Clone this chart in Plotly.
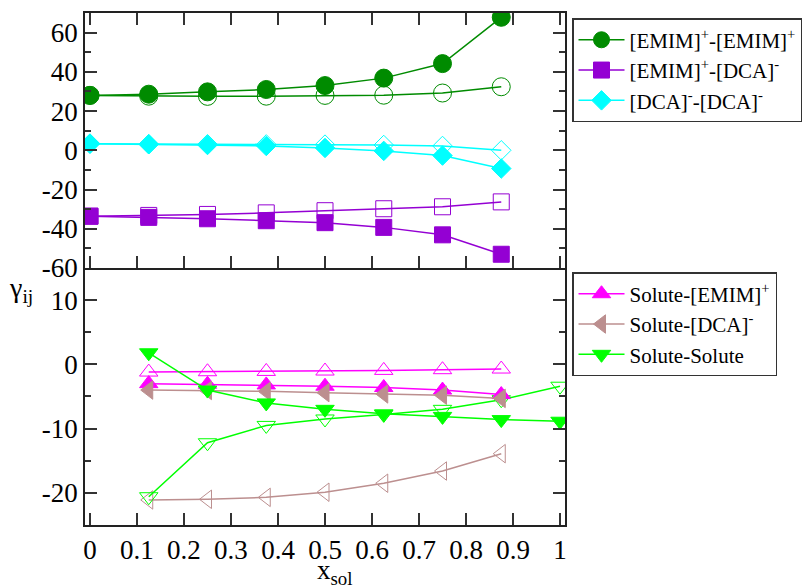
import plotly.graph_objects as go
from plotly.subplots import make_subplots

# ---- data ----
x_ion = [0, 0.125, 0.25, 0.375, 0.5, 0.625, 0.75, 0.875]
emim_emim_filled = [28.0, 28.6, 29.8, 31.0, 33.0, 36.8, 44.2, 67.8]
emim_emim_open = [28.0, 27.6, 27.5, 27.6, 28.0, 28.1, 29.2, 32.4]
emim_dca_filled = [-33.6, -34.2, -34.9, -35.9, -36.9, -39.3, -43.1, -53.0]
emim_dca_open = [-33.6, -33.2, -32.7, -31.9, -30.8, -29.8, -28.8, -26.3]
dca_dca_filled = [3.4, 3.1, 2.7, 2.2, 1.2, -0.3, -2.7, -9.3]
dca_dca_open = [3.4, 3.1, 3.1, 3.0, 2.9, 2.7, 2.2, 0.0]

x_sol_a = [0.125, 0.25, 0.375, 0.5, 0.625, 0.75, 0.875]
x_sol_b = [0.125, 0.25, 0.375, 0.5, 0.625, 0.75, 0.875, 1.0]
sol_emim_filled = [-3.0, -3.1, -3.2, -3.4, -3.6, -4.0, -4.7]
sol_emim_open = [-1.2, -1.15, -1.1, -1.04, -0.94, -0.83, -0.73]
sol_dca_filled = [-4.0, -4.06, -4.2, -4.4, -4.6, -4.8, -5.3]
sol_dca_open = [-21.1, -21.0, -20.7, -19.9, -18.5, -16.6, -13.9]
sol_sol_filled = [1.8, -4.0, -6.0, -7.0, -7.7, -8.1, -8.6, -8.85]
sol_sol_open = [-20.6, -12.2, -9.5, -8.5, -7.8, -7.0, -5.5, -3.4]

x_ticks = [0, 0.1, 0.2, 0.3, 0.4, 0.5, 0.6, 0.7, 0.8, 0.9, 1]
x_tick_labels = ["0", "0.1", "0.2", "0.3", "0.4", "0.5", "0.6", "0.7", "0.8", "0.9", "1"]
y1_ticks = [-60, -40, -20, 0, 20, 40, 60]
y1_tick_labels = ["-60", "-40", "-20", "0", "20", "40", "60"]
y2_ticks = [-20, -10, 0, 10]
y2_tick_labels = ["-20", "-10", "0", "10"]

GREEN_D = "#008B00"
VIOLET = "#9400D3"
CYAN = "#00FFFF"
MAGENTA = "#FF00FF"
BROWN = "#BC8F8F"
GREEN = "#00FF00"
FONT = ("Liberation Serif, Tinos, Times New Roman, Nimbus Roman, FreeSerif, "
        "Noto Serif, DejaVu Serif, serif")

fig = make_subplots(rows=2, cols=1, shared_xaxes=False, vertical_spacing=0,
                    row_heights=[0.498, 0.502])

def add(x, y, color, symbol, size, row, name=None, legend="legend", filled=True):
    fig.add_trace(go.Scatter(
        x=x, y=y, mode="lines+markers",
        line=dict(color=color, width=1.5),
        marker=dict(symbol=symbol if filled else symbol + "-open", size=size, color=color,
                    line=dict(color=color, width=1)),
        name=name if name else "", showlegend=bool(name and filled), legend=legend,
    ), row=row, col=1)

# upper panel: open first, then filled
add(x_ion, emim_emim_open, GREEN_D, "circle", 18, 1, filled=False)
add(x_ion, dca_dca_open, CYAN, "diamond", 15, 1, filled=False)
add(x_ion, emim_dca_open, VIOLET, "square", 16, 1, filled=False)
add(x_ion, emim_emim_filled, GREEN_D, "circle", 18, 1, name="[EMIM]<sup>+</sup>-[EMIM]<sup>+</sup>")
add(x_ion, emim_dca_filled, VIOLET, "square", 16, 1, name="[EMIM]<sup>+</sup>-[DCA]<sup>-</sup>")
add(x_ion, dca_dca_filled, CYAN, "diamond", 15, 1, name="[DCA]<sup>-</sup>-[DCA]<sup>-</sup>")

# lower panel
add(x_sol_a, sol_emim_open, MAGENTA, "triangle-up", 16, 2, filled=False)
add(x_sol_a, sol_dca_open, BROWN, "triangle-left", 16, 2, filled=False)
add(x_sol_b, sol_sol_open, GREEN, "triangle-down", 16, 2, filled=False)
add(x_sol_a, sol_emim_filled, MAGENTA, "triangle-up", 16, 2, name="Solute-[EMIM]<sup>+</sup>", legend="legend2")
add(x_sol_a, sol_dca_filled, BROWN, "triangle-left", 16, 2, name="Solute-[DCA]<sup>-</sup>", legend="legend2")
add(x_sol_b, sol_sol_filled, GREEN, "triangle-down", 16, 2, name="Solute-Solute", legend="legend2")

axis_common = dict(showgrid=False, zeroline=False, showline=True, linecolor="#222", linewidth=1.5,
                   ticks="inside", ticklen=12, tickwidth=1.5, tickcolor="#333",
                   tickfont=dict(family=FONT, size=27, color="black"))

fig.update_xaxes(range=[-0.0106, 1.0106], tickvals=x_ticks, ticktext=x_tick_labels, **axis_common)
fig.update_xaxes(showticklabels=False, mirror="ticks", row=1, col=1)
fig.update_xaxes(mirror=False, row=2, col=1)

fig.update_yaxes(mirror="ticks", **axis_common)
fig.update_yaxes(range=[-60, 70], tickvals=y1_ticks, ticktext=y1_tick_labels,
                 minor=dict(dtick=10, tick0=0, ticks="inside", ticklen=6, tickcolor="#333", tickwidth=1.5),
                 row=1, col=1)
fig.update_yaxes(range=[-25, 15], tickvals=y2_ticks, ticktext=y2_tick_labels,
                 minor=dict(dtick=5, tick0=0, ticks="inside", ticklen=6, tickcolor="#333", tickwidth=1.5),
                 row=2, col=1)

legend_style = dict(font=dict(family=FONT, size=21, color="black"), bgcolor="white",
                    bordercolor="#333", borderwidth=1.5, xanchor="left", yanchor="top",
                    tracegroupgap=0, itemwidth=46)

fig.update_layout(
    width=810, height=587,
    margin=dict(l=85, r=245, t=13, b=62, autoexpand=False),
    plot_bgcolor="white", paper_bgcolor="white",
    font=dict(family=FONT, color="black"),
    legend=dict(x=1.0146, y=0.99, **legend_style),
    legend2=dict(x=1.0146, y=0.494, **legend_style),
    annotations=[
        dict(text="γ<sub>ij</sub>", x=-0.133, y=0.459, xref="paper", yref="paper",
             xanchor="center", yanchor="middle",
             showarrow=False, font=dict(family=FONT, size=28, color="black")),
        dict(text="x<sub>sol</sub>", x=0.52, y=-0.092, xref="paper", yref="paper",
             xanchor="center", yanchor="middle", showarrow=False,
             font=dict(family=FONT, size=27, color="black")),
    ],
)

fig.write_html("out.html")
